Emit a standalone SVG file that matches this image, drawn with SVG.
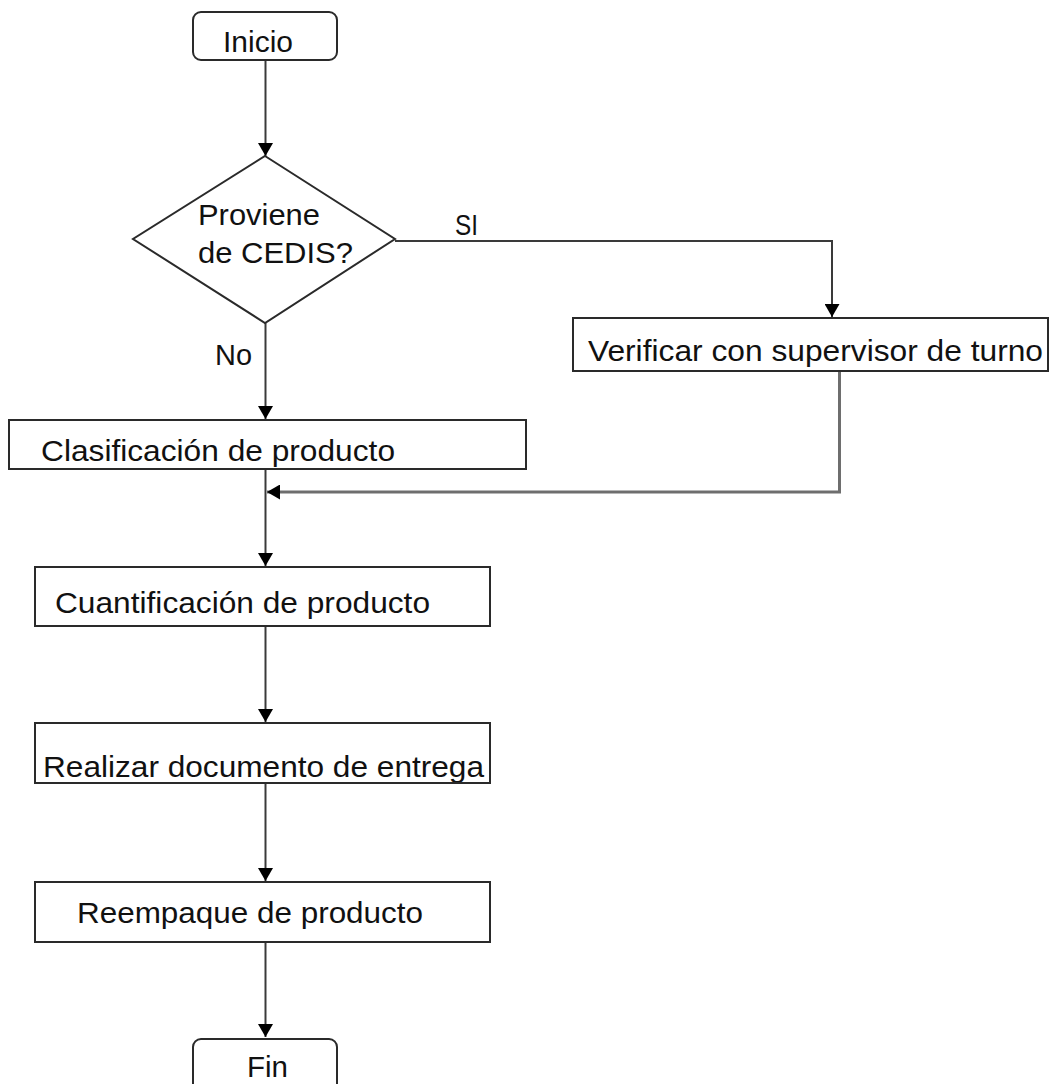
<svg xmlns="http://www.w3.org/2000/svg" width="1050" height="1084" viewBox="0 0 1050 1084">
<style>
.box{fill:#fff;stroke:#2a2a2a;stroke-width:2}
.t{font-family:"Liberation Sans",Arial,sans-serif;font-size:30px;fill:#111}
.c{fill:none;stroke:#3a3a3a;stroke-width:2}
.c2{fill:none;stroke:#6e6e6e;stroke-width:3}
</style>
<defs>
<marker id="ah" viewBox="0 0 13 15" refX="13" refY="7.5" markerWidth="13" markerHeight="15" markerUnits="userSpaceOnUse" orient="auto">
<path d="M0,0 L13,7.5 L0,15 z" fill="#000"/>
</marker>
<clipPath id="cpV"><rect x="574" y="319" width="473" height="51"/></clipPath>
<clipPath id="cpC"><rect x="10" y="421" width="515" height="47"/></clipPath>
<clipPath id="cpQ"><rect x="36" y="568" width="453" height="57"/></clipPath>
<clipPath id="cpR"><rect x="36" y="724" width="453" height="58"/></clipPath>
<clipPath id="cpE"><rect x="36" y="883" width="453" height="58"/></clipPath>
</defs>
<rect width="1050" height="1084" fill="#fff"/>
<g id="connectors">
<line class="c" x1="265.5" y1="60" x2="265.5" y2="156" marker-end="url(#ah)"/>
<line class="c" x1="265.5" y1="323" x2="265.5" y2="419" marker-end="url(#ah)"/>
<polyline class="c" points="395,241 832,241 832,317" marker-end="url(#ah)"/>
<line class="c" x1="265.5" y1="469" x2="265.5" y2="566" marker-end="url(#ah)"/>
<polyline class="c2" points="839.5,372 839.5,492 267,492" marker-end="url(#ah)"/>
<line class="c" x1="265.5" y1="626" x2="265.5" y2="722" marker-end="url(#ah)"/>
<line class="c" x1="265.5" y1="783" x2="265.5" y2="881" marker-end="url(#ah)"/>
<line class="c" x1="265.5" y1="942" x2="265.5" y2="1037" marker-end="url(#ah)"/>
<text class="t" x="455" y="235" textLength="23" lengthAdjust="spacingAndGlyphs">SI</text>
<text class="t" x="215" y="365" textLength="37" lengthAdjust="spacingAndGlyphs">No</text>
</g>
<g id="inicio">
<rect class="box" x="193" y="12" width="144" height="48" rx="8"/>
<text class="t" x="223" y="52" font-size="31" textLength="70" lengthAdjust="spacingAndGlyphs">Inicio</text>
</g>
<g id="decision">
<polygon class="box" points="265,156 395,239 265,323 133,239"/>
<text class="t" x="198" y="225" textLength="122" lengthAdjust="spacingAndGlyphs">Proviene</text>
<text class="t" x="198" y="263" textLength="155" lengthAdjust="spacingAndGlyphs">de CEDIS?</text>
</g>
<g id="verificar">
<rect class="box" x="573" y="318" width="475" height="53"/>
<text class="t" x="588" y="361" clip-path="url(#cpV)" textLength="455" lengthAdjust="spacingAndGlyphs">Verificar con supervisor de turno</text>
</g>
<g id="clasificacion">
<rect class="box" x="9" y="420" width="517" height="49"/>
<text class="t" x="41" y="461" clip-path="url(#cpC)" textLength="354" lengthAdjust="spacingAndGlyphs">Clasificación de producto</text>
</g>
<g id="cuantificacion">
<rect class="box" x="35" y="567" width="455" height="59"/>
<text class="t" x="55" y="613" clip-path="url(#cpQ)" textLength="375" lengthAdjust="spacingAndGlyphs">Cuantificación de producto</text>
</g>
<g id="realizar">
<rect class="box" x="35" y="723" width="455" height="60"/>
<text class="t" x="43" y="777" clip-path="url(#cpR)" textLength="441" lengthAdjust="spacingAndGlyphs">Realizar documento de entrega</text>
</g>
<g id="reempaque">
<rect class="box" x="35" y="882" width="455" height="60"/>
<text class="t" x="77" y="923" clip-path="url(#cpE)" textLength="346" lengthAdjust="spacingAndGlyphs">Reempaque de producto</text>
</g>
<g id="fin">
<rect class="box" x="193" y="1039" width="144" height="60" rx="8"/>
<text class="t" x="247" y="1077" font-size="31" textLength="41" lengthAdjust="spacingAndGlyphs">Fin</text>
</g>
</svg>
